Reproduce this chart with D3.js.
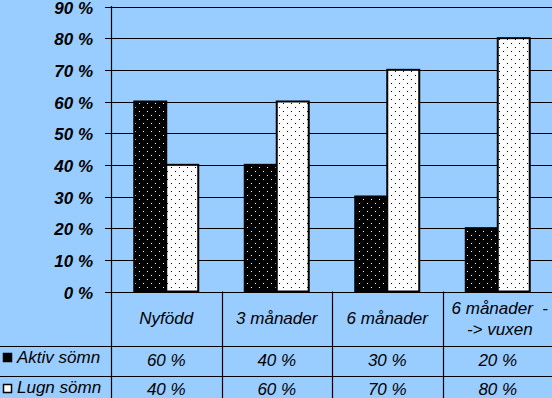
<!DOCTYPE html>
<html><head><meta charset="utf-8">
<script src="https://cdn.jsdelivr.net/npm/d3@7"></script>
<style>html,body{margin:0;padding:0;background:#99CCFF;overflow:hidden}svg{display:block}</style>
</head><body>
<svg id="c" width="552" height="398"></svg>
<script>
const categories = ["Nyfödd", "3 månader", "6 månader", "6 månader\u00a0 -|-> vuxen"];
const seriesNames = ["Aktiv sömn", "Lugn sömn"];
const aktiv = [60, 40, 30, 20];
const lugn = [40, 60, 70, 80];
const yTicks = [0, 10, 20, 30, 40, 50, 60, 70, 80, 90];

(function () {
const W = 552, H = 398;
const font = "'Liberation Sans', Arial, sans-serif";
const svg = d3.select("#c");
svg.append("rect").attr("width", W).attr("height", H).attr("fill", "#99CCFF");

const defs = svg.append("defs");
function pat(id, bg, fg) {
  const p = defs.append("pattern").attr("id", id).attr("patternUnits", "userSpaceOnUse")
    .attr("width", 8).attr("height", 8);
  p.append("rect").attr("width", 8).attr("height", 8).attr("fill", bg);
  p.append("rect").attr("x", 3).attr("y", 7).attr("width", 1).attr("height", 1).attr("fill", fg);
  p.append("rect").attr("x", 7).attr("y", 3).attr("width", 1).attr("height", 1).attr("fill", fg);
}
pat("pDark", "#000", "#fff");
pat("pLight", "#fff", "#000");
const fills = ["url(#pDark)", "url(#pLight)"];

const plotLeft = 111, plotRight = 553, plotTop = 6.5, base = 291.5;
const y = d3.scaleLinear().domain([0, 90]).range([base, plotTop]);
const x0 = d3.scaleBand().domain(categories).range([plotLeft, plotRight]).padding(0);
const x1 = d3.scaleBand().domain(seriesNames).range([0, x0.bandwidth()]).paddingInner(0).paddingOuter(0.727);

// gridlines + ticks
const g = svg.append("g");
g.selectAll("line.grid").data(yTicks).join("line")
  .attr("x1", plotLeft - 6).attr("x2", W).attr("y1", d => Math.round(y(d)) + 0.5).attr("y2", d => Math.round(y(d)) + 0.5)
  .attr("stroke", "#000").attr("stroke-width", 1.2);
g.selectAll("text.yl").data(yTicks).join("text")
  .attr("x", 93).attr("y", d => Math.round(y(d)) + 6.5)
  .attr("text-anchor", "end").attr("font-family", font).attr("font-size", 17)
  .attr("font-weight", "bold").attr("font-style", "italic").text(d => d + " %");

// bars
const series = [aktiv, lugn];
categories.forEach((c, i) => {
  series.forEach((s, k) => {
    const bx = x0(c) + x1(seriesNames[k]);
    svg.append("rect").attr("x", bx).attr("y", y(s[i])).attr("width", x1.bandwidth())
      .attr("height", base - y(s[i])).attr("fill", fills[k]).attr("stroke", "#000").attr("stroke-width", 2);
  });
});

// axis line
svg.append("line").attr("x1", plotLeft + 0.5).attr("x2", plotLeft + 0.5).attr("y1", plotTop - 0.5).attr("y2", H)
  .attr("stroke", "#000").attr("stroke-width", 1.2);

// table
const rowLines = [346, 376];
svg.selectAll("line.row").data(rowLines).join("line")
  .attr("x1", 0).attr("x2", W).attr("y1", d => d + 0.5).attr("y2", d => d + 0.5)
  .attr("stroke", "#000").attr("stroke-width", 1.2);
svg.selectAll("line.col").data(categories.slice(1)).join("line")
  .attr("x1", d => Math.round(x0(d)) + 0.5).attr("x2", d => Math.round(x0(d)) + 0.5)
  .attr("y1", base).attr("y2", H).attr("stroke", "#000").attr("stroke-width", 1.2);

// category labels
categories.forEach(c => {
  const lines = c.split("|");
  const cx = x0(c) + x0.bandwidth() / 2;
  const t = svg.append("text").attr("text-anchor", "middle").attr("font-family", font)
    .attr("font-size", 17).attr("font-style", "italic");
  if (lines.length === 1) {
    t.append("tspan").attr("x", cx).attr("y", 324).text(lines[0]);
  } else {
    t.append("tspan").attr("x", cx + 2).attr("y", 314).text(lines[0]);
    t.append("tspan").attr("x", cx + 2).attr("y", 335).text(lines[1]);
  }
});

// value rows
const rowBase = [366, 394.5];
const keyY = [353.5, 384.5];
const labelBase = [363, 393];
series.forEach((s, k) => {
  svg.append("rect").attr("x", 3.5).attr("y", keyY[k]).attr("width", 8).attr("height", 8)
    .attr("fill", k === 0 ? "#000" : "#fff").attr("stroke", "#000").attr("stroke-width", 1.5);
  svg.append("text").attr("x", 17).attr("y", labelBase[k]).attr("font-family", font)
    .attr("font-size", 17).attr("font-style", "italic").text(seriesNames[k]);
  svg.selectAll(null).data(categories).join("text")
    .attr("x", d => x0(d) + x0.bandwidth() / 2).attr("y", rowBase[k])
    .attr("text-anchor", "middle").attr("font-family", font).attr("font-size", 17)
    .attr("font-style", "italic").text((d, i) => s[i] + " %");
});
})();
</script>
</body></html>
